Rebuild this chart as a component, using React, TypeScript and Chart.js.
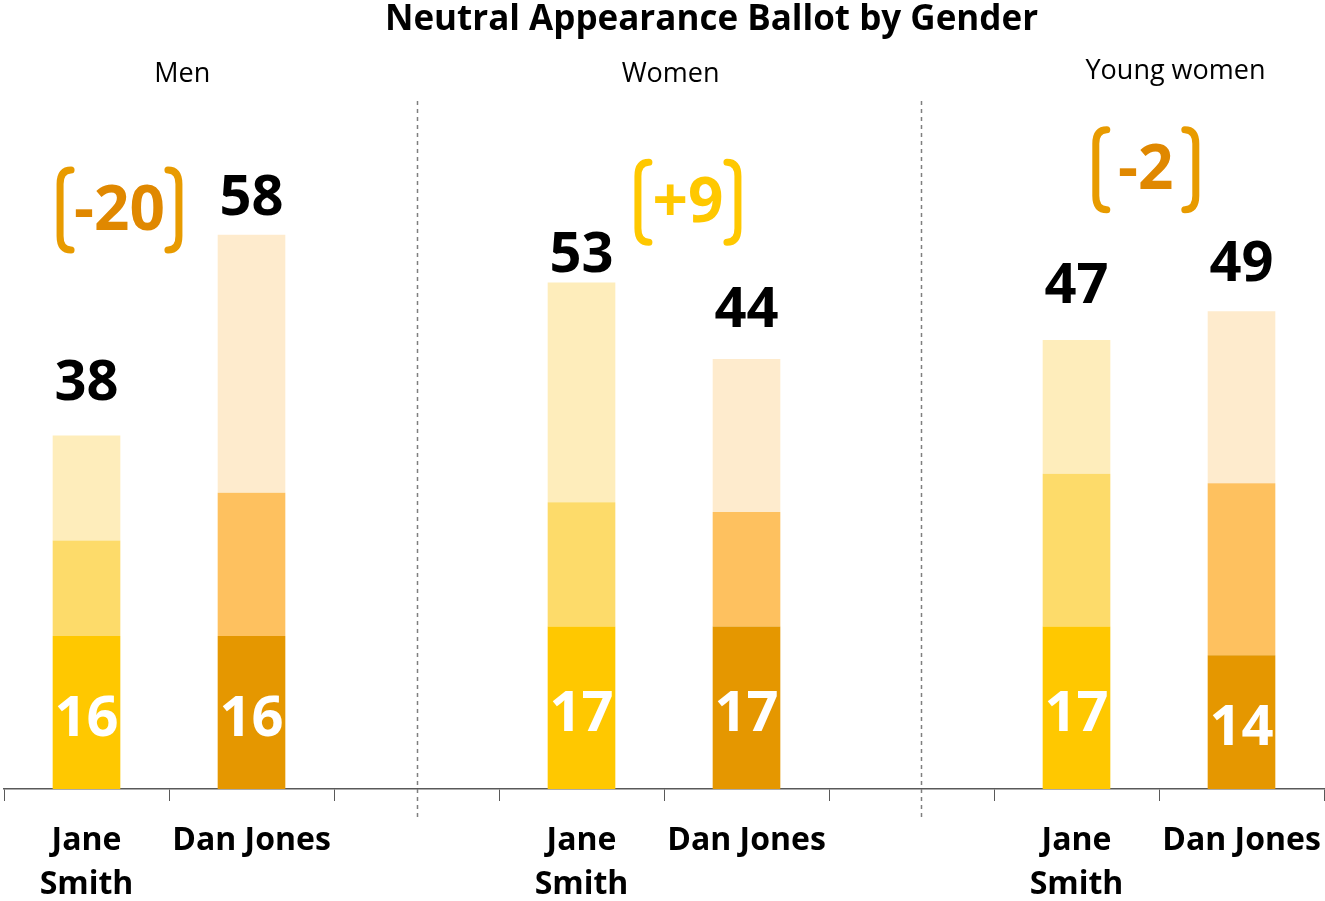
import React, { useEffect, useRef } from "react";
import { Chart, registerables } from "chart.js";

Chart.register(...registerables);

// ---- data ----
const tickLabels: (string | string[])[] = [
  ["Jane", "Smith"], "Dan Jones", "",
  ["Jane", "Smith"], "Dan Jones", "",
  ["Jane", "Smith"], "Dan Jones",
];
const candidateKind = ["jane", "dan", "", "jane", "dan", "", "jane", "dan"];
const coreValues = [16, 16, null, 17, 17, null, 17, 14];
const middleValues = [10, 15, null, 13, 12, null, 16, 18];
const outerValues = [11, 27, null, 23, 16, null, 14, 18];
const totalLabels = ["38", "58", "", "53", "44", "", "47", "49"];
const panelTitles = ["Men", "Women", "Young women"];
const gapLabels = ["-20", "+9", "-2"];
const chartTitle = "Neutral Appearance Ballot by Gender";

// ---- styling / annotation placement ----
const janeColors = ["#FFC800", "#FDDB6A", "#FEEDBB"];
const danColors = ["#E59700", "#FEC15F", "#FEEBCD"];
const totalLabelLift = [35, 20, 0, 11, 32, 0, 37, 30];
const panelTitleAnchor = [0.58, 3.54, 6.6];
const panelTitleY = [74, 74, 71];
const gapAnchorX = [0.2, 3.645, 6.42];
const gapAnchorY = [60.6, 61.4, 64.8];
const gapTextColors = ["#E08800", "#FFC800", "#E08800"];
const gapBracketColors = ["#E89B00", "#FFC800", "#E89B00"];
const dividerAt = [2, 5.06];

const FONT = "'Open Sans', Lato, sans-serif";

function colorsFor(level: number) {
  return candidateKind.map((k) => (k === "jane" ? janeColors[level] : danColors[level]));
}

function drawBracket(ctx: CanvasRenderingContext2D, x: number, top: number, bottom: number, dir: number, color: string) {
  const stub = 11;
  const r = 14;
  ctx.save();
  ctx.strokeStyle = color;
  ctx.lineWidth = 7;
  ctx.lineCap = "round";
  ctx.lineJoin = "round";
  ctx.beginPath();
  ctx.moveTo(x + dir * stub, top);
  ctx.quadraticCurveTo(x, top, x, top + r);
  ctx.lineTo(x, bottom - r);
  ctx.quadraticCurveTo(x, bottom, x + dir * stub, bottom);
  ctx.stroke();
  ctx.restore();
}

const decorPlugin = {
  id: "decor",
  beforeDatasetsDraw(chart: any) {
    const { ctx, scales, chartArea } = chart;
    const x = scales.x;
    ctx.save();
    ctx.strokeStyle = "#7F7F7F";
    ctx.lineWidth = 1.5;
    ctx.setLineDash([4, 4]);
    dividerAt.forEach((d) => {
      const px = Math.round(x.getPixelForValue(d)) + 0.5;
      ctx.beginPath();
      ctx.moveTo(px, chartArea.top);
      ctx.lineTo(px, chartArea.bottom + 29);
      ctx.stroke();
    });
    ctx.restore();
  },
  afterDatasetsDraw(chart: any) {
    const { ctx, scales, width } = chart;
    const x = scales.x;
    const y = scales.y;
    ctx.save();
    // title
    ctx.fillStyle = "#000";
    ctx.textAlign = "center";
    ctx.textBaseline = "middle";
    ctx.font = `bold 35px ${FONT}`;
    ctx.fillText(chartTitle, width / 2 + 49, 20);
    // panel titles
    ctx.font = `27px ${FONT}`;
    panelTitles.forEach((t, i) => {
      ctx.fillText(t, x.getPixelForValue(panelTitleAnchor[i]), panelTitleY[i]);
    });
    // core labels + totals
    const coreMeta = chart.getDatasetMeta(0);
    const topMeta = chart.getDatasetMeta(2);
    coreMeta.data.forEach((bar: any, i: number) => {
      if (coreValues[i] == null) return;
      ctx.fillStyle = "#FFFFFF";
      ctx.font = `bold 56px ${FONT}`;
      ctx.textBaseline = "middle";
      ctx.fillText(String(coreValues[i]), bar.x, (bar.y + bar.base) / 2 + 7);
      const topBar = topMeta.data[i];
      ctx.fillStyle = "#000";
      ctx.font = `bold 56px ${FONT}`;
      ctx.textBaseline = "alphabetic";
      ctx.fillText(totalLabels[i], topBar.x, topBar.y - totalLabelLift[i]);
    });
    // gap brackets
    gapLabels.forEach((g, i) => {
      const cx = x.getPixelForValue(gapAnchorX[i]);
      const cy = y.getPixelForValue(gapAnchorY[i]);
      ctx.font = `bold 62px ${FONT}`;
      const tw = ctx.measureText(g).width;
      const half = Math.max(tw / 2 + 14, 50);
      drawBracket(ctx, cx - half, cy - 40, cy + 40, 1, gapBracketColors[i]);
      drawBracket(ctx, cx + half, cy - 40, cy + 40, -1, gapBracketColors[i]);
      ctx.fillStyle = gapTextColors[i];
      ctx.textBaseline = "middle";
      ctx.fillText(g, cx, cy + 2);
    });
    ctx.restore();
  },
};

export default function App() {
  const ref = useRef<HTMLCanvasElement>(null);
  useEffect(() => {
    if (!ref.current) return;
    const chart = new Chart(ref.current, {
      type: "bar",
      data: {
        labels: tickLabels,
        datasets: [
          { label: "core", data: coreValues, backgroundColor: colorsFor(0) },
          { label: "middle", data: middleValues, backgroundColor: colorsFor(1) },
          { label: "outer", data: outerValues, backgroundColor: colorsFor(2) },
        ] as any,
      },
      options: {
        animation: false,
        responsive: true,
        maintainAspectRatio: false,
        layout: { padding: { top: 101, left: 4, right: 1, bottom: 0 } },
        datasets: { bar: { barPercentage: 0.41, categoryPercentage: 1, borderWidth: 0 } },
        plugins: { legend: { display: false }, tooltip: { enabled: false }, title: { display: false } },
        scales: {
          x: {
            stacked: true,
            offset: true,
            grid: { offset: true, drawOnChartArea: false, drawTicks: true, tickLength: 12, color: "#595959", lineWidth: 1 },
            border: { color: "#595959", width: 1.5 },
            ticks: {
              color: "#000",
              font: { family: FONT, weight: "bold", size: 32, lineHeight: 1.38 },
              padding: 18,
              maxRotation: 0,
              autoSkip: false,
            },
            afterFit: (s: any) => {
              s.height = 112;
              s.paddingLeft = 0;
              s.paddingRight = 0;
            },
          },
          y: { stacked: true, display: false, min: 0, max: 72 },
        },
      } as any,
      plugins: [decorPlugin],
    });
    return () => chart.destroy();
  }, []);
  return (
    <div style={{ position: "absolute", left: 0, top: 0, width: 1325, height: 901 }}>
      <canvas ref={ref} />
    </div>
  );
}
